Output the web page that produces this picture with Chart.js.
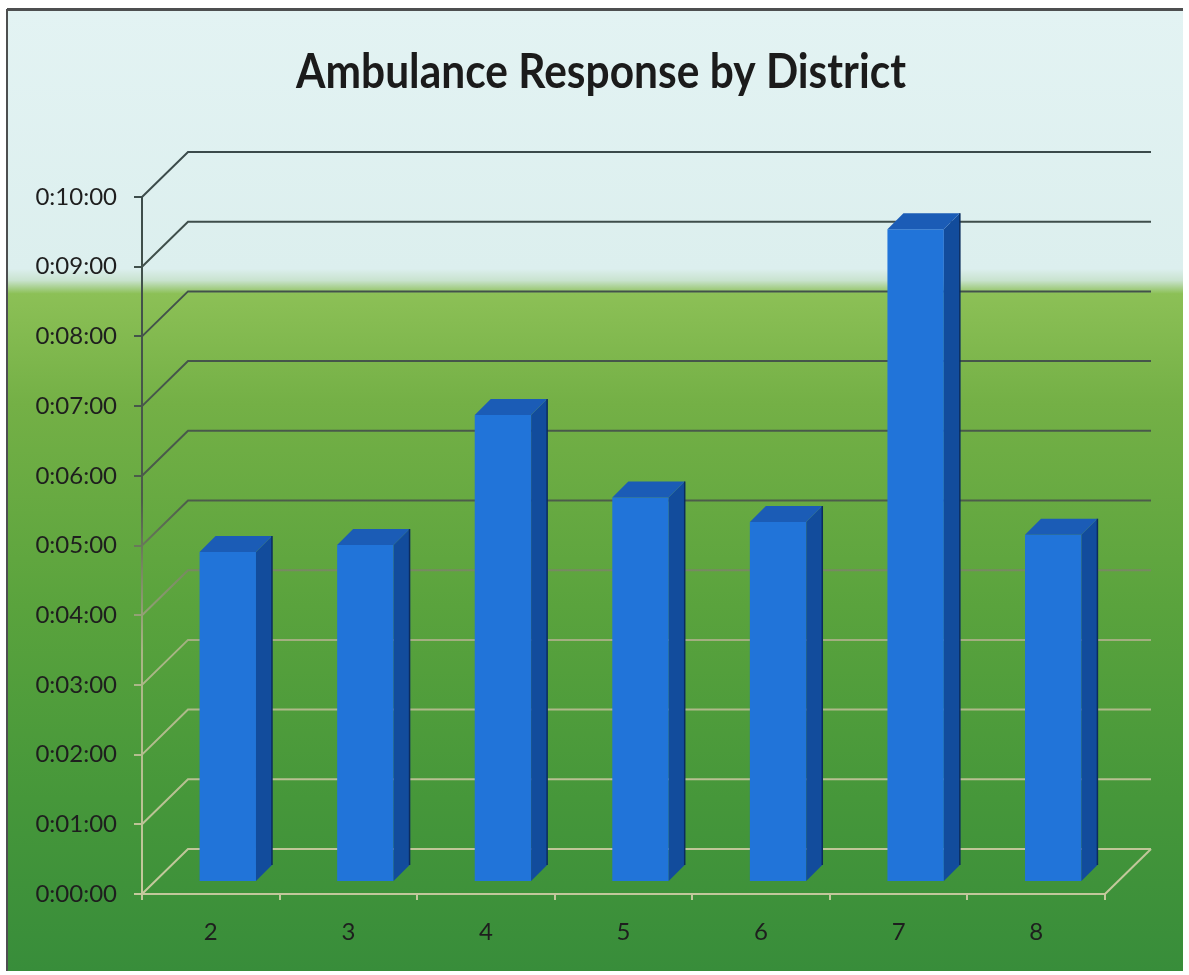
<!DOCTYPE html>
<html>
<head>
<meta charset="utf-8">
<title>Ambulance Response by District</title>
<script src="https://cdn.jsdelivr.net/npm/chart.js@4.4.1/dist/chart.umd.min.js"></script>
<style>
  html, body { margin: 0; padding: 0; background: #fff; }
  #wrap { width: 1189px; height: 975px; }
</style>
</head>
<body>
<div id="wrap"><canvas id="myChart" width="1189" height="975"></canvas></div>
<script>
// districts along the floor
var districts = ["2", "3", "4", "5", "6", "7", "8"];
// average response time per district, in seconds
var responseSecs = [284, 290, 402, 331, 310, 562, 299];
// value axis 0:00:00 .. 0:10:00, one line per minute
var axisMax = 600;
var axisStep = 60;
var chartTitle = "Ambulance Response by District";

// fake 3d: back wall offset, bar row offset, bar depth
var WALL_DX = 46, WALL_DY = -45;
var ROW_DX = 17, ROW_DY = -12;
var DEPTH = 16;

function pad2(n) { return (n < 10 ? "0" : "") + n; }
function fmtTime(s) {
  return "0:" + pad2(Math.floor(s / 60)) + ":" + pad2(s % 60);
}

// line colour goes from dark grey (sky part) to light khaki (floor)
var lineStops = [[150, [59, 74, 75]], [500, [76, 92, 74]], [570, [120, 136, 98]], [650, [168, 180, 132]], [900, [198, 202, 158]]];
function lineColorAt(y) {
  if (y <= lineStops[0][0]) return "rgb(" + lineStops[0][1].join(",") + ")";
  for (var i = 1; i < lineStops.length; i++) {
    if (y <= lineStops[i][0]) {
      var a = lineStops[i - 1], b = lineStops[i];
      var t = (y - a[0]) / (b[0] - a[0]);
      var c = a[1].map(function (v, k) { return Math.round(v + (b[1][k] - v) * t); });
      return "rgb(" + c.join(",") + ")";
    }
  }
  return "rgb(" + lineStops[lineStops.length - 1][1].join(",") + ")";
}
function lineGrad(ctx) {
  var g = ctx.createLinearGradient(0, 150, 0, 900);
  lineStops.forEach(function (s) {
    g.addColorStop((s[0] - 150) / 750, "rgb(" + s[1].join(",") + ")");
  });
  return g;
}

var depth3d = {
  id: "depth3d",
  beforeDraw: function (chart) {
    var c = chart.ctx;
    c.save();
    c.fillStyle = "#ffffff";
    c.fillRect(0, 0, chart.width, chart.height);
    var g = c.createLinearGradient(0, 9, 0, 971);
    g.addColorStop(0, "#e3f3f3");
    g.addColorStop(0.27, "#dcefee");
    g.addColorStop(0.282, "#c9e3cf");
    g.addColorStop(0.296, "#8cc056");
    g.addColorStop(0.41, "#74b046");
    g.addColorStop(0.62, "#5aa33d");
    g.addColorStop(0.82, "#46973a");
    g.addColorStop(1, "#388d3a");
    c.fillStyle = g;
    c.fillRect(7, 9, 1176, 962);
    c.strokeStyle = "#4d4f50";
    c.lineWidth = 3;
    c.beginPath();
    c.moveTo(7, 9.5); c.lineTo(1183, 9.5);
    c.stroke();
    c.lineWidth = 2;
    c.beginPath();
    c.moveTo(7, 9); c.lineTo(7, 971);
    c.stroke();
    c.restore();
  },
  beforeDatasetsDraw: function (chart) {
    var c = chart.ctx, area = chart.chartArea, ys = chart.scales.y;
    c.save();
    c.strokeStyle = lineGrad(c);
    c.lineWidth = 2;
    // back wall lines with the diagonal from the front axis
    ys.ticks.forEach(function (t) {
      var y = ys.getPixelForValue(t.value);
      c.beginPath();
      c.moveTo(area.left, y);
      c.lineTo(area.left + WALL_DX, y + WALL_DY);
      c.lineTo(area.right + WALL_DX, y + WALL_DY);
      c.stroke();
    });
    // right edge of the floor
    c.beginPath();
    c.moveTo(area.right, area.bottom);
    c.lineTo(area.right + WALL_DX, area.bottom + WALL_DY);
    c.stroke();
    // front value axis
    c.beginPath();
    c.moveTo(area.left, area.top);
    c.lineTo(area.left, area.bottom);
    c.stroke();
    c.restore();
    // bars stand a little back from the front edge
    c.save();
    c.translate(ROW_DX, ROW_DY);
  },
  afterDatasetsDraw: function (chart) {
    var c = chart.ctx;
    chart.getDatasetMeta(0).data.forEach(function (bar) {
      var p = bar.getProps(["x", "y", "base", "width"], true);
      var x0 = p.x - p.width / 2, x1 = p.x + p.width / 2;
      // side face
      c.fillStyle = "#124c9c";
      c.beginPath();
      c.moveTo(x1, p.y);
      c.lineTo(x1 + DEPTH, p.y - DEPTH);
      c.lineTo(x1 + DEPTH, p.base - DEPTH);
      c.lineTo(x1, p.base);
      c.closePath();
      c.fill();
      // top face
      c.fillStyle = "#1b5cb6";
      c.beginPath();
      c.moveTo(x0, p.y);
      c.lineTo(x1, p.y);
      c.lineTo(x1 + DEPTH, p.y - DEPTH);
      c.lineTo(x0 + DEPTH, p.y - DEPTH);
      c.closePath();
      c.fill();
      c.strokeStyle = "#0b2c5e";
      c.lineWidth = 1.5;
      c.beginPath();
      c.moveTo(x1 + DEPTH, p.y - DEPTH);
      c.lineTo(x1 + DEPTH, p.base - DEPTH);
      c.stroke();
    });
    c.restore();
  },
  afterDraw: function (chart) {
    var c = chart.ctx;
    c.save();
    c.font = "bold 47px Lato, 'Open Sans', sans-serif";
    c.fillStyle = "#1b1b1b";
    c.textAlign = "center";
    c.textBaseline = "alphabetic";
    c.fillText(chartTitle, 601, 88, 610);
    c.restore();
  }
};

var chart = new Chart("myChart", {
  type: "bar",
  data: {
    labels: districts,
    datasets: [{
      label: "Response",
      data: responseSecs,
      backgroundColor: "#2174d9",
      borderWidth: 0,
      categoryPercentage: 1,
      barPercentage: 0.41
    }]
  },
  options: {
    responsive: false,
    devicePixelRatio: 1,
    animation: false,
    events: [],
    layout: { padding: { top: 197, right: 84, bottom: 0, left: 0 } },
    plugins: {
      legend: { display: false },
      title: { display: false },
      tooltip: { enabled: false }
    },
    scales: {
      x: {
        afterFit: function (s) { s.height = 81; },
        grid: {
          offset: true,
          drawOnChartArea: false,
          drawTicks: true,
          tickLength: 6,
          color: "#c2c79b",
          lineWidth: 2
        },
        border: { display: true, color: "#c2c79b", width: 2 },
        ticks: {
          padding: 18,
          color: "#1e1e1e",
          font: { family: "Lato, 'Open Sans', sans-serif", size: 24 }
        }
      },
      y: {
        min: 0,
        max: axisMax,
        afterFit: function (s) { s.width = 142; },
        grid: {
          drawOnChartArea: false,
          drawTicks: true,
          tickLength: 8,
          lineWidth: 2,
          tickColor: function (ctx) {
            return lineColorAt(ctx.chart.scales.y.getPixelForValue(ctx.tick.value));
          }
        },
        border: { display: false },
        ticks: {
          stepSize: axisStep,
          padding: 17,
          color: "#1e1e1e",
          font: { family: "Lato, 'Open Sans', sans-serif", size: 24 },
          callback: function (v) { return fmtTime(v); }
        }
      }
    }
  },
  plugins: [depth3d]
});
</script>
</body>
</html>
